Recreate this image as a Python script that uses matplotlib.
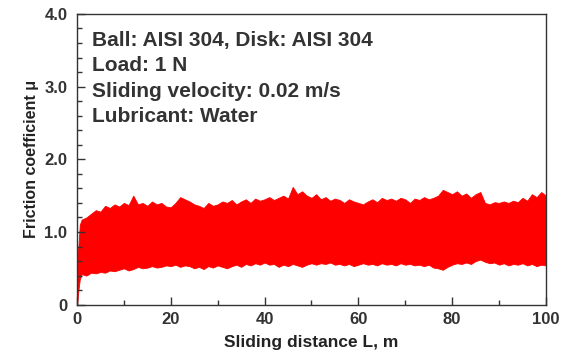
import numpy as np
import matplotlib.pyplot as plt

plt.rcParams["font.family"] = ["Liberation Sans", "DejaVu Sans"]
plt.rcParams["font.weight"] = "bold"

# Envelope of the friction trace (max / min of mu), sampled along the sliding distance
distance = [0, 0.3, 0.6] + list(range(1, 101))
mu_upper = [0.70, 0.80, 1.10,
            1.17, 1.20, 1.25, 1.30, 1.28, 1.36, 1.33, 1.38, 1.35, 1.40,
            1.37, 1.50, 1.38, 1.40, 1.36, 1.42, 1.38, 1.40, 1.35, 1.34,
            1.40, 1.48, 1.45, 1.42, 1.38, 1.36, 1.33, 1.40, 1.36, 1.38,
            1.42, 1.40, 1.44, 1.38, 1.42, 1.45, 1.40, 1.46, 1.43, 1.45,
            1.48, 1.44, 1.47, 1.50, 1.46, 1.62, 1.52, 1.56, 1.50, 1.47,
            1.52, 1.45, 1.48, 1.43, 1.46, 1.44, 1.40, 1.45, 1.42, 1.40,
            1.38, 1.42, 1.45, 1.41, 1.47, 1.44, 1.46, 1.43, 1.47, 1.45,
            1.40, 1.46, 1.44, 1.48, 1.45, 1.47, 1.50, 1.58, 1.55, 1.52,
            1.56, 1.50, 1.53, 1.47, 1.52, 1.55, 1.40, 1.38, 1.41, 1.40,
            1.42, 1.40, 1.43, 1.41, 1.47, 1.43, 1.52, 1.48, 1.55, 1.50]
mu_lower = [0.00, 0.20, 0.35,
            0.42, 0.40, 0.44, 0.43, 0.45, 0.44, 0.47, 0.46, 0.48, 0.50,
            0.47, 0.49, 0.52, 0.50, 0.51, 0.53, 0.51, 0.52, 0.54, 0.53,
            0.55, 0.52, 0.54, 0.53, 0.50, 0.52, 0.49, 0.53, 0.51, 0.54,
            0.52, 0.50, 0.53, 0.55, 0.52, 0.56, 0.54, 0.57, 0.55, 0.58,
            0.55, 0.56, 0.52, 0.55, 0.53, 0.56, 0.54, 0.52, 0.55, 0.57,
            0.55, 0.57, 0.56, 0.58, 0.55, 0.56, 0.54, 0.56, 0.53, 0.55,
            0.57, 0.55, 0.56, 0.54, 0.57, 0.55, 0.56, 0.54, 0.57, 0.55,
            0.56, 0.54, 0.55, 0.53, 0.55, 0.51, 0.50, 0.48, 0.52, 0.55,
            0.57, 0.56, 0.58, 0.56, 0.60, 0.62, 0.59, 0.57, 0.58, 0.55,
            0.57, 0.54, 0.56, 0.55, 0.57, 0.54, 0.56, 0.53, 0.55, 0.54]

conditions = ["Ball: AISI 304, Disk: AISI 304",
              "Load: 1 N",
              "Sliding velocity: 0.02 m/s",
              "Lubricant: Water"]
# baseline of each condition line, as a fraction of the axes height
condition_y = [0.891, 0.803, 0.715, 0.628]

text_color = "#333333"

fig = plt.figure(figsize=(5.64, 3.58), dpi=100)
ax = fig.add_axes([0.1365, 0.149, 0.8315, 0.812])

x = np.array(distance)
ax.fill_between(x, mu_lower, mu_upper, color="#ff0000", linewidth=0.6,
                edgecolor="#ff0000")
ax.plot([0, 0], [0, 0.7], color="#ff0000", linewidth=1)

ax.set_xlim(0, 100)
ax.set_ylim(0, 4.0)
ax.set_xticks([0, 20, 40, 60, 80, 100])
ax.set_xticks(np.arange(10, 100, 20), minor=True)
ax.set_yticks([0, 1, 2, 3, 4])
ax.set_yticklabels(["0", "1.0", "2.0", "3.0", "4.0"])
ax.set_yticks(np.arange(0.2, 4.0, 0.2), minor=True)
ax.tick_params(which="both", direction="in", top=False, right=False,
               colors=text_color, labelsize=12, width=1)
ax.tick_params(which="major", length=6)
ax.tick_params(axis="x", which="major", pad=5)
ax.tick_params(axis="y", which="major", pad=7)
ax.tick_params(which="minor", length=3.5)
for lbl in ax.get_xticklabels() + ax.get_yticklabels():
    lbl.set_fontweight("bold")
for sp in ax.spines.values():
    sp.set_color(text_color)
    sp.set_linewidth(1)

ax.set_xlabel("Sliding distance L, m", fontsize=12.5, fontweight="bold",
              color="#222222", labelpad=6)
ax.set_ylabel("Friction coefficient \u03bc", fontsize=11.5, fontweight="bold",
              color="#222222", labelpad=4)

for line, yy in zip(conditions, condition_y):
    ax.text(0.032, yy, line, transform=ax.transAxes, fontsize=15,
            fontweight="bold", color="#333333", va="baseline")

fig.savefig("out.png", dpi=100)
